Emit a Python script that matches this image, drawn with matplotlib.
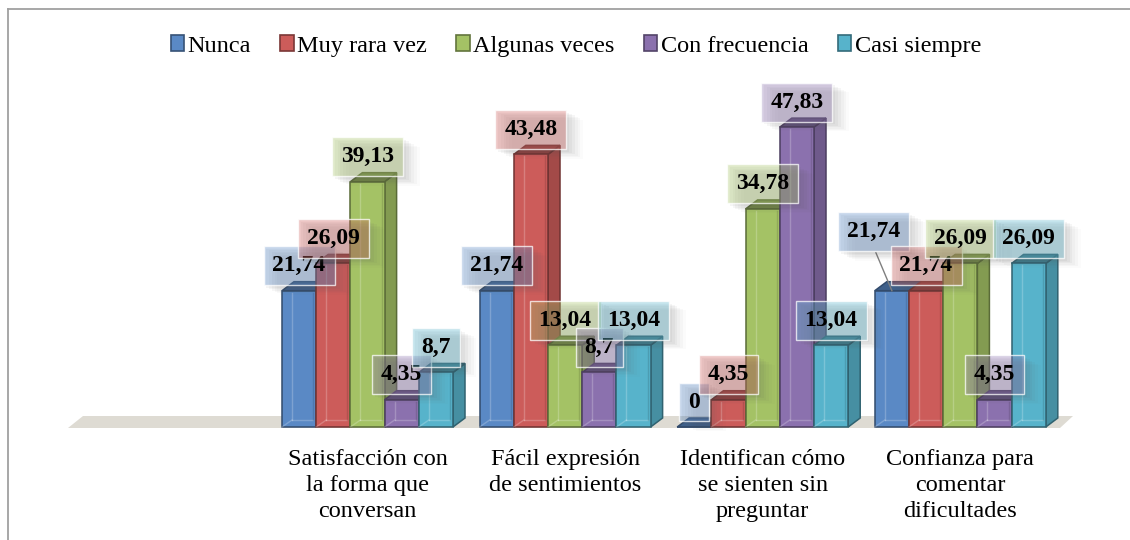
import matplotlib
matplotlib.use('Agg')
import matplotlib.pyplot as plt
from matplotlib.patches import Polygon, Rectangle, Patch
from matplotlib.lines import Line2D
from matplotlib.colors import to_rgb, to_rgba
import matplotlib.patheffects as pe
import numpy as np

# ---------------- data ----------------
categories = ["Satisfacción con\nla forma que\nconversan",
              "Fácil expresión\nde sentimientos",
              "Identifican cómo\nse sienten sin\npreguntar",
              "Confianza para\ncomentar\ndificultades"]
series_names = ["Nunca", "Muy rara vez", "Algunas veces", "Con frecuencia", "Casi siempre"]
nunca = [21.74, 21.74, 0, 21.74]
muy_rara_vez = [26.09, 43.48, 4.35, 21.74]
algunas_veces = [39.13, 13.04, 34.78, 26.09]
con_frecuencia = [4.35, 8.7, 47.83, 4.35]
casi_siempre = [8.7, 13.04, 13.04, 26.09]
series_values = [nunca, muy_rara_vez, algunas_veces, con_frecuencia, casi_siempre]

# ---------------- style ----------------
colors = ['#5a89c5', '#cc5c5a', '#a4c265', '#8b71ae', '#57b3cb']
plt.rcParams['font.family'] = ['Liberation Serif', 'DejaVu Serif']
FS_LAB = 17
FS_TXT = 17.5

W, H = 1130, 540
fig = plt.figure(figsize=(W / 100, H / 100), dpi=100)
ax = fig.add_axes([0, 0, 1, 1])
ax.axis('off')

SPX = 197.6          # pixels per category unit
SPY = 6.27           # pixels per value unit
X0PX = 367.5         # pixel x of first category
Y0PX = 427.0         # pixel y (from top) of value 0
ax.set_xlim(-X0PX / SPX, (W - X0PX) / SPX)
ax.set_ylim(-(H - Y0PX) / SPY, Y0PX / SPY)
PX_X = 1 / SPX
PX_Y = 1 / SPY

bar_w = 34.2 * PX_X
dx, dy = 12 * PX_X, 9 * PX_Y

# floor
fl_x0, fl_x1 = (68 - X0PX) * PX_X, (1060 - X0PX) * PX_X
fl_y0 = -1 * PX_Y
ax.add_patch(Polygon([(fl_x0, fl_y0), (fl_x1, fl_y0),
                      (fl_x1 + 13 * PX_X, fl_y0 + 12 * PX_Y),
                      (fl_x0 + 15 * PX_X, fl_y0 + 12 * PX_Y)],
                     closed=True, fc='#dedbd3', ec='none', zorder=1))


def bar3d(x0, v, color):
    c = np.array(to_rgb(color))
    side = c * 0.80
    top = c * 0.70
    edge = c * 0.55
    ax.add_patch(Polygon([(x0 + bar_w, 0), (x0 + bar_w + dx, dy),
                          (x0 + bar_w + dx, v + dy), (x0 + bar_w, v)],
                         closed=True, fc=side, ec=edge, lw=1.1, zorder=2))
    ax.add_patch(Polygon([(x0, v), (x0 + dx, v + dy), (x0 + bar_w + dx, v + dy),
                          (x0 + bar_w, v)], closed=True, fc=top, ec=edge,
                         lw=1.1, zorder=2))
    ax.add_patch(Rectangle((x0, 0), bar_w, v, fc=c, ec=edge, lw=1.1, zorder=2))
    # subtle bevel
    if v * SPY > 14:
        bx = 10 * PX_X
        by = 7 * PX_Y
        hl = (1, 1, 1, 0.22)
        ax.plot([x0 + bx, x0 + bx], [by, v - 2 * PX_Y], color=hl, lw=1, zorder=2.1)
        ax.plot([x0 + bx, x0 + bar_w - 3 * PX_X], [by, by], color=hl, lw=1, zorder=2.1)
        ax.plot([x0, x0 + bx], [0, by], color=hl, lw=1, zorder=2.1)
        ax.plot([x0 + bar_w - 3 * PX_X] * 2, [by, v - 2 * PX_Y], color=(0, 0, 0, 0.12),
                lw=1, zorder=2.1)


label_offsets = {(0, 3): (-18, 34)}   # (series, category): pixel shift of label

for ci in range(len(categories)):
    for si, vals in enumerate(series_values):
        x0 = ci + (si - 2.5) * bar_w
        bar3d(x0, vals[ci], colors[si])

sh_c = (0.35, 0.35, 0.35)
shadow = [pe.SimplePatchShadow(offset=(2, -2), shadow_rgbFace=sh_c, alpha=0.06),
          pe.SimplePatchShadow(offset=(4, -3), shadow_rgbFace=sh_c, alpha=0.05),
          pe.SimplePatchShadow(offset=(6, -4), shadow_rgbFace=sh_c, alpha=0.05),
          pe.SimplePatchShadow(offset=(8, -5), shadow_rgbFace=sh_c, alpha=0.04),
          pe.SimplePatchShadow(offset=(10, -6), shadow_rgbFace=sh_c, alpha=0.03),
          pe.SimplePatchShadow(offset=(12, -7), shadow_rgbFace=sh_c, alpha=0.02),
          pe.Normal()]

for ci in range(len(categories)):
    for si, vals in enumerate(series_values):
        v = vals[ci]
        xc = ci + (si - 2.0) * bar_w
        ox, oy = label_offsets.get((si, ci), (0, 0))
        lx = xc + ox * PX_X
        ly = v + (25 + oy) * PX_Y
        txt = f"{v:g}".replace('.', ',')
        t = ax.text(lx, ly, txt, ha='center', va='center', fontsize=FS_LAB, fontweight='bold',
                    color='black', zorder=6,
                    bbox=dict(boxstyle='square,pad=0.38', fc=to_rgba(colors[si], 0.35),
                              ec=(1, 1, 1, 0.75), lw=1))
        t.get_bbox_patch().set_path_effects(shadow)
        if (si, ci) in label_offsets:
            ax.plot([lx + 2 * PX_X, xc], [ly - 21 * PX_Y, v], color='#7f7f7f', lw=1, zorder=5)

# category labels
for ci, lab in enumerate(categories):
    ax.text(ci, (Y0PX - 449) * PX_Y, lab, ha='center', va='top', fontsize=FS_TXT,
            linespacing=1.32, color='black', zorder=3)

# legend
handles = [Patch(fc=c, ec=np.array(to_rgb(c)) * 0.6, lw=1.2, label=n)
           for c, n in zip(colors, series_names)]
ax.legend(handles=handles, ncol=5, loc='center', bbox_to_anchor=(576 / W, 1 - 46 / H),
          bbox_transform=fig.transFigure, frameon=False, fontsize=FS_TXT,
          handlelength=0.55, handleheight=0.6, handletextpad=0.15, columnspacing=1.2,
          borderaxespad=0, borderpad=0)

# outer border (left & top visible)
fig.add_artist(Line2D([7.5 / W, 7.5 / W], [0, 1 - 8.5 / H], transform=fig.transFigure,
                      color='#a0a0a0', lw=1.3))
fig.add_artist(Line2D([7.5 / W, 1], [1 - 8.5 / H, 1 - 8.5 / H], transform=fig.transFigure,
                      color='#a0a0a0', lw=1.3))

fig.savefig('out.png', dpi=100)
